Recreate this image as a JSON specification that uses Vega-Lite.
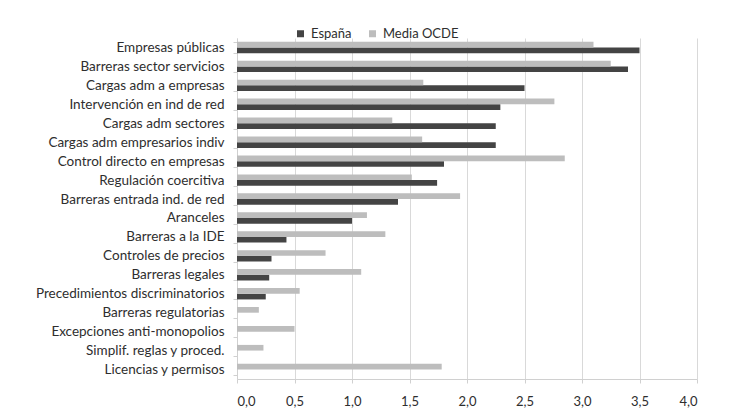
{
  "$schema": "https://vega.github.io/schema/vega-lite/v6.json",
  "width": 460,
  "height": 341,
  "autosize": {"type": "none"},
  "padding": {"left": 237, "top": 38, "right": 33, "bottom": 32},
  "background": "#ffffff",
  "data": {
    "values": [
      {"indicador": "Empresas públicas", "serie": "España", "valor": 3.5},
      {"indicador": "Empresas públicas", "serie": "Media OCDE", "valor": 3.1},
      {"indicador": "Barreras sector servicios", "serie": "España", "valor": 3.4},
      {"indicador": "Barreras sector servicios", "serie": "Media OCDE", "valor": 3.25},
      {"indicador": "Cargas adm a empresas", "serie": "España", "valor": 2.5},
      {"indicador": "Cargas adm a empresas", "serie": "Media OCDE", "valor": 1.62},
      {"indicador": "Intervención en ind de red", "serie": "España", "valor": 2.29},
      {"indicador": "Intervención en ind de red", "serie": "Media OCDE", "valor": 2.76},
      {"indicador": "Cargas adm sectores", "serie": "España", "valor": 2.25},
      {"indicador": "Cargas adm sectores", "serie": "Media OCDE", "valor": 1.35},
      {"indicador": "Cargas adm empresarios indiv", "serie": "España", "valor": 2.25},
      {"indicador": "Cargas adm empresarios indiv", "serie": "Media OCDE", "valor": 1.61},
      {"indicador": "Control directo en empresas", "serie": "España", "valor": 1.8},
      {"indicador": "Control directo en empresas", "serie": "Media OCDE", "valor": 2.85},
      {"indicador": "Regulación coercitiva", "serie": "España", "valor": 1.74},
      {"indicador": "Regulación coercitiva", "serie": "Media OCDE", "valor": 1.52},
      {"indicador": "Barreras entrada ind. de red", "serie": "España", "valor": 1.4},
      {"indicador": "Barreras entrada ind. de red", "serie": "Media OCDE", "valor": 1.94},
      {"indicador": "Aranceles", "serie": "España", "valor": 1.0},
      {"indicador": "Aranceles", "serie": "Media OCDE", "valor": 1.13},
      {"indicador": "Barreras a la IDE", "serie": "España", "valor": 0.43},
      {"indicador": "Barreras a la IDE", "serie": "Media OCDE", "valor": 1.29},
      {"indicador": "Controles de precios", "serie": "España", "valor": 0.3},
      {"indicador": "Controles de precios", "serie": "Media OCDE", "valor": 0.77},
      {"indicador": "Barreras legales", "serie": "España", "valor": 0.28},
      {"indicador": "Barreras legales", "serie": "Media OCDE", "valor": 1.08},
      {"indicador": "Precedimientos discriminatorios", "serie": "España", "valor": 0.25},
      {"indicador": "Precedimientos discriminatorios", "serie": "Media OCDE", "valor": 0.545},
      {"indicador": "Barreras regulatorias", "serie": "Media OCDE", "valor": 0.19},
      {"indicador": "Excepciones anti-monopolios", "serie": "Media OCDE", "valor": 0.5},
      {"indicador": "Simplif. reglas y proced.", "serie": "Media OCDE", "valor": 0.23},
      {"indicador": "Licencias y permisos", "serie": "Media OCDE", "valor": 1.78}
    ]
  },
  "mark": {"type": "bar"},
  "encoding": {
    "y": {
      "field": "indicador",
      "type": "nominal",
      "sort": null,
      "title": null,
      "scale": {"paddingInner": 0.4, "paddingOuter": 0.2},
      "axis": {
        "domainColor": "#d0d0d0",
        "tickColor": "#d0d0d0",
        "tickSize": 4,
        "tickBand": "extent",
        "labelPadding": 9,
        "labelFont": "Lato",
        "labelFontSize": 13.5,
        "labelColor": "#2e2e2e",
        "labelLimit": 300
      }
    },
    "yOffset": {
      "field": "serie",
      "type": "nominal",
      "sort": ["Media OCDE", "España"],
      "scale": {"domain": ["Media OCDE", "España"], "paddingInner": 0, "paddingOuter": 0}
    },
    "x": {
      "field": "valor",
      "type": "quantitative",
      "title": null,
      "scale": {"domain": [0, 4], "nice": false, "zero": true},
      "axis": {
        "values": [0, 0.5, 1, 1.5, 2, 2.5, 3, 3.5, 4],
        "labelExpr": "replace(format(datum.value, '.1f'), '.', ',')",
        "grid": true,
        "gridColor": "#d9d9d9",
        "domainColor": "#d0d0d0",
        "tickColor": "#d0d0d0",
        "tickSize": 4,
        "labelPadding": 12,
        "labelFont": "Lato",
        "labelFontSize": 13,
        "labelColor": "#2e2e2e"
      }
    },
    "color": {
      "field": "serie",
      "type": "nominal",
      "scale": {"domain": ["España", "Media OCDE"], "range": ["#444444", "#bdbdbd"]},
      "legend": {
        "title": null,
        "orient": "none",
        "direction": "horizontal",
        "legendX": 57,
        "legendY": -11,
        "symbolType": "square",
        "symbolSize": 49,
        "symbolStrokeWidth": 0,
        "columnPadding": 14,
        "labelFont": "Lato",
        "labelFontSize": 13,
        "labelColor": "#2e2e2e",
        "labelOffset": 4
      }
    }
  },
  "config": {
    "view": {"stroke": null}
  }
}
